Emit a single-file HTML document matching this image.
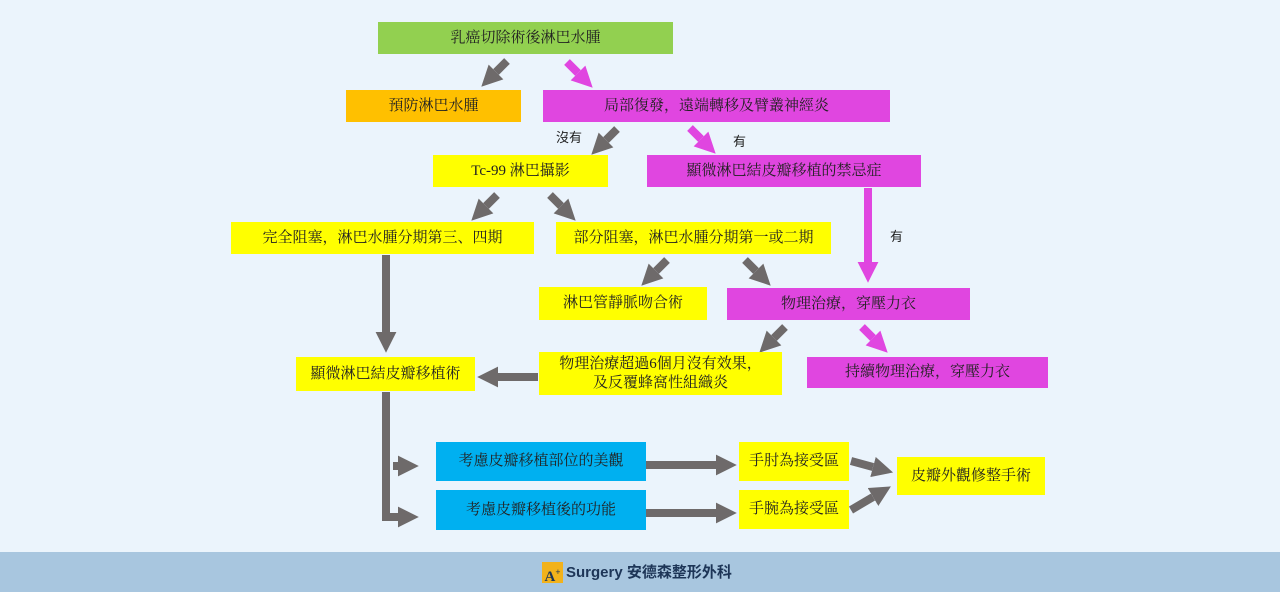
<!DOCTYPE html>
<html><head><meta charset="utf-8"><style>
body{margin:0;width:1280px;height:592px;background:#ebf4fc;position:relative;overflow:hidden;font-family:"Liberation Serif","Noto Serif CJK SC","Noto Sans CJK TC",serif;}
.b{position:absolute;display:flex;align-items:center;justify-content:center;font-size:15px;color:#222;text-align:center;line-height:19px;box-sizing:border-box}
.g{background:#92d050}.o{background:#ffc000}.m{background:#e046e0}.y{background:#ffff00}.c{background:#00b0f0}
.t{position:absolute;font-size:13px;color:#222;font-family:"Liberation Sans","Noto Sans CJK TC",sans-serif}
#f{position:absolute;left:0;top:552px;width:1280px;height:40px;background:#a8c6df}
</style></head><body>
<svg width="1280" height="592" style="position:absolute;left:0;top:0">
<defs>
<marker id="ag" viewBox="0 0 10 10" refX="0" refY="5" markerWidth="2.6" markerHeight="2.6" orient="auto"><path d="M0,0L10,5L0,10z" fill="#6e6a6a"/></marker>
<marker id="am" viewBox="0 0 10 10" refX="0" refY="5" markerWidth="2.6" markerHeight="2.6" orient="auto"><path d="M0,0L10,5L0,10z" fill="#e046e0"/></marker>
</defs>
<g stroke="#6e6a6a" stroke-width="8" fill="none" marker-end="url(#ag)">
<line x1="507" y1="61" x2="496" y2="72"/>
<line x1="617" y1="129" x2="606" y2="140"/>
<line x1="497" y1="195" x2="486" y2="206"/>
<line x1="550" y1="195" x2="561" y2="206"/>
<line x1="667" y1="260" x2="656" y2="271"/>
<line x1="745" y1="260" x2="756" y2="271"/>
<line x1="785" y1="327" x2="774" y2="338"/>
<line x1="386" y1="255" x2="386" y2="332"/>
<line x1="538" y1="377" x2="498" y2="377"/>
<line x1="646" y1="465" x2="716" y2="465"/>
<line x1="646" y1="513" x2="716" y2="513"/>
<line x1="393" y1="466" x2="398" y2="466"/>
<line x1="386" y1="517" x2="398" y2="517"/>
<line x1="851" y1="461" x2="873" y2="467"/>
<line x1="851" y1="510" x2="873" y2="497"/>
</g>
<line x1="386" y1="392" x2="386" y2="521" stroke="#6e6a6a" stroke-width="8"/>
<g stroke="#e046e0" stroke-width="8" fill="none" marker-end="url(#am)">
<line x1="567" y1="62" x2="578" y2="73"/>
<line x1="690" y1="128" x2="701" y2="139"/>
<line x1="868" y1="188" x2="868" y2="262"/>
<line x1="862" y1="327" x2="873" y2="338"/>
</g>
</svg>
<div class="b g" style="left:378px;top:22px;width:295px;height:32px">乳癌切除術後淋巴水腫</div>
<div class="b o" style="left:346px;top:90px;width:175px;height:32px">預防淋巴水腫</div>
<div class="b m" style="left:543px;top:90px;width:347px;height:32px">局部復發，遠端轉移及臂叢神經炎</div>
<div class="b y" style="left:433px;top:155px;width:175px;height:32px">Tc-99 淋巴攝影</div>
<div class="b m" style="left:647px;top:155px;width:274px;height:32px">顯微淋巴結皮瓣移植的禁忌症</div>
<div class="b y" style="left:231px;top:222px;width:303px;height:32px">完全阻塞，淋巴水腫分期第三、四期</div>
<div class="b y" style="left:556px;top:222px;width:275px;height:32px">部分阻塞，淋巴水腫分期第一或二期</div>
<div class="b y" style="left:539px;top:287px;width:168px;height:33px">淋巴管靜脈吻合術</div>
<div class="b m" style="left:727px;top:288px;width:243px;height:32px">物理治療，穿壓力衣</div>
<div class="b y" style="left:539px;top:352px;width:243px;height:43px">物理治療超過6個月沒有效果，<br>及反覆蜂窩性組織炎</div>
<div class="b m" style="left:807px;top:357px;width:241px;height:31px">持續物理治療，穿壓力衣</div>
<div class="b y" style="left:296px;top:357px;width:179px;height:34px">顯微淋巴結皮瓣移植術</div>
<div class="b c" style="left:436px;top:442px;width:210px;height:39px">考慮皮瓣移植部位的美觀</div>
<div class="b c" style="left:436px;top:490px;width:210px;height:40px">考慮皮瓣移植後的功能</div>
<div class="b y" style="left:739px;top:442px;width:110px;height:39px">手肘為接受區</div>
<div class="b y" style="left:739px;top:490px;width:110px;height:39px">手腕為接受區</div>
<div class="b y" style="left:897px;top:457px;width:148px;height:38px">皮瓣外觀修整手術</div>
<div class="t" style="left:556px;top:127px">沒有</div>
<div class="t" style="left:733px;top:131px">有</div>
<div class="t" style="left:890px;top:226px">有</div>
<div id="f">
<div style="position:absolute;left:542px;top:10px;width:21px;height:21px;background:#f2b21b;color:#1d3557;font:bold 15px 'Liberation Serif',serif;text-align:center;line-height:21px">A<sup style="font-size:9px">+</sup></div>
<div style="position:absolute;left:566px;top:10px;font:bold 15px 'Liberation Sans','Noto Sans CJK TC',sans-serif;color:#1d3557;line-height:21px">Surgery 安德森整形外科</div>
</div>
</body></html>
